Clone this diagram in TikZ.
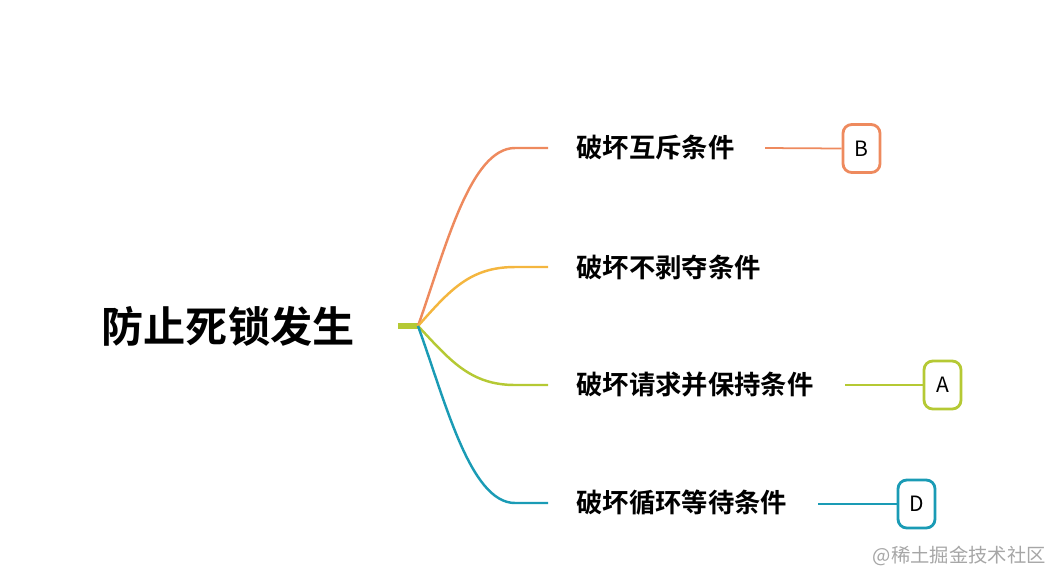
\documentclass[tikz,border=0pt]{standalone}
\usepackage{fontspec}
\setmainfont{Noto Sans CJK SC}
\newfontfamily\cjkbold{Noto Sans CJK SC Bold}
\usetikzlibrary{positioning}
\definecolor{corange}{HTML}{EE8A5E}
\definecolor{cyellow}{HTML}{F4B63F}
\definecolor{cgreen}{HTML}{B5C934}
\definecolor{cteal}{HTML}{1A9BB5}
\tikzset{
  topic/.style={font=\cjkbold\fontsize{15}{15}\selectfont, anchor=west, inner sep=0pt},
  tagbox/.style={draw=#1, line width=1.6pt, rounded corners=5pt, minimum width=0.74cm, minimum height=0.96cm, font=\fontsize{12}{12}\selectfont},
  branch/.style={line width=1.4pt, #1}
}
\begin{document}
\begin{tikzpicture}[x=0.02cm, y=-0.02cm]
  \useasboundingbox (0,0) rectangle (1062,586);
  % root
  \node[font=\cjkbold\fontsize{24}{24}\selectfont, inner sep=0pt] (root) at (228,326) {防止死锁发生};
  \coordinate (hub0) at (398,326);
  \coordinate (hub) at (418,326);
  \draw[cgreen, line width=3pt] (hub0) -- (hub);
  % topics
  \node[topic] (t1) at (576,148) {破坏互斥条件};
  \node[topic] (t2) at (576,267) {破坏不剥夺条件};
  \node[topic] (t3) at (576,385) {破坏请求并保持条件};
  \node[topic] (t4) at (576,503) {破坏循环等待条件};
  \coordinate (e1) at (548,148);
  \coordinate (e2) at (548,267);
  \coordinate (e3) at (548,385);
  \coordinate (e4) at (548,503);
  % branches
  \draw[branch=corange] (hub) .. controls (445,250) and (470,148) .. (515,148) -- (e1);
  \draw[branch=cyellow] (hub) .. controls (450,290) and (470,267) .. (515,267) -- (e2);
  \draw[branch=cgreen] (hub) .. controls (450,360) and (470,385) .. (515,385) -- (e3);
  \draw[branch=cteal] (hub) .. controls (445,400) and (470,503) .. (515,503) -- (e4);
  % tags
  \node[tagbox=corange] (b) at (861.5,148.5) {B};
  \node[tagbox=cgreen] (a) at (942.5,385) {A};
  \node[tagbox=cteal] (d) at (916.5,504) {D};
  \draw[corange, line width=1pt] (765,148) coordinate (s1) -- (b.west);
  \draw[cgreen, line width=1pt] (845,385) coordinate (s3) -- (a.west);
  \draw[cteal, line width=1pt] (818,504) coordinate (s4) -- (d.west);
  % watermark
  \node[font=\fontsize{11}{11}\selectfont, text=black!35, anchor=east, inner sep=0pt] (wm) at (1046,556) {@稀土掘金技术社区};
\end{tikzpicture}
\end{document}
